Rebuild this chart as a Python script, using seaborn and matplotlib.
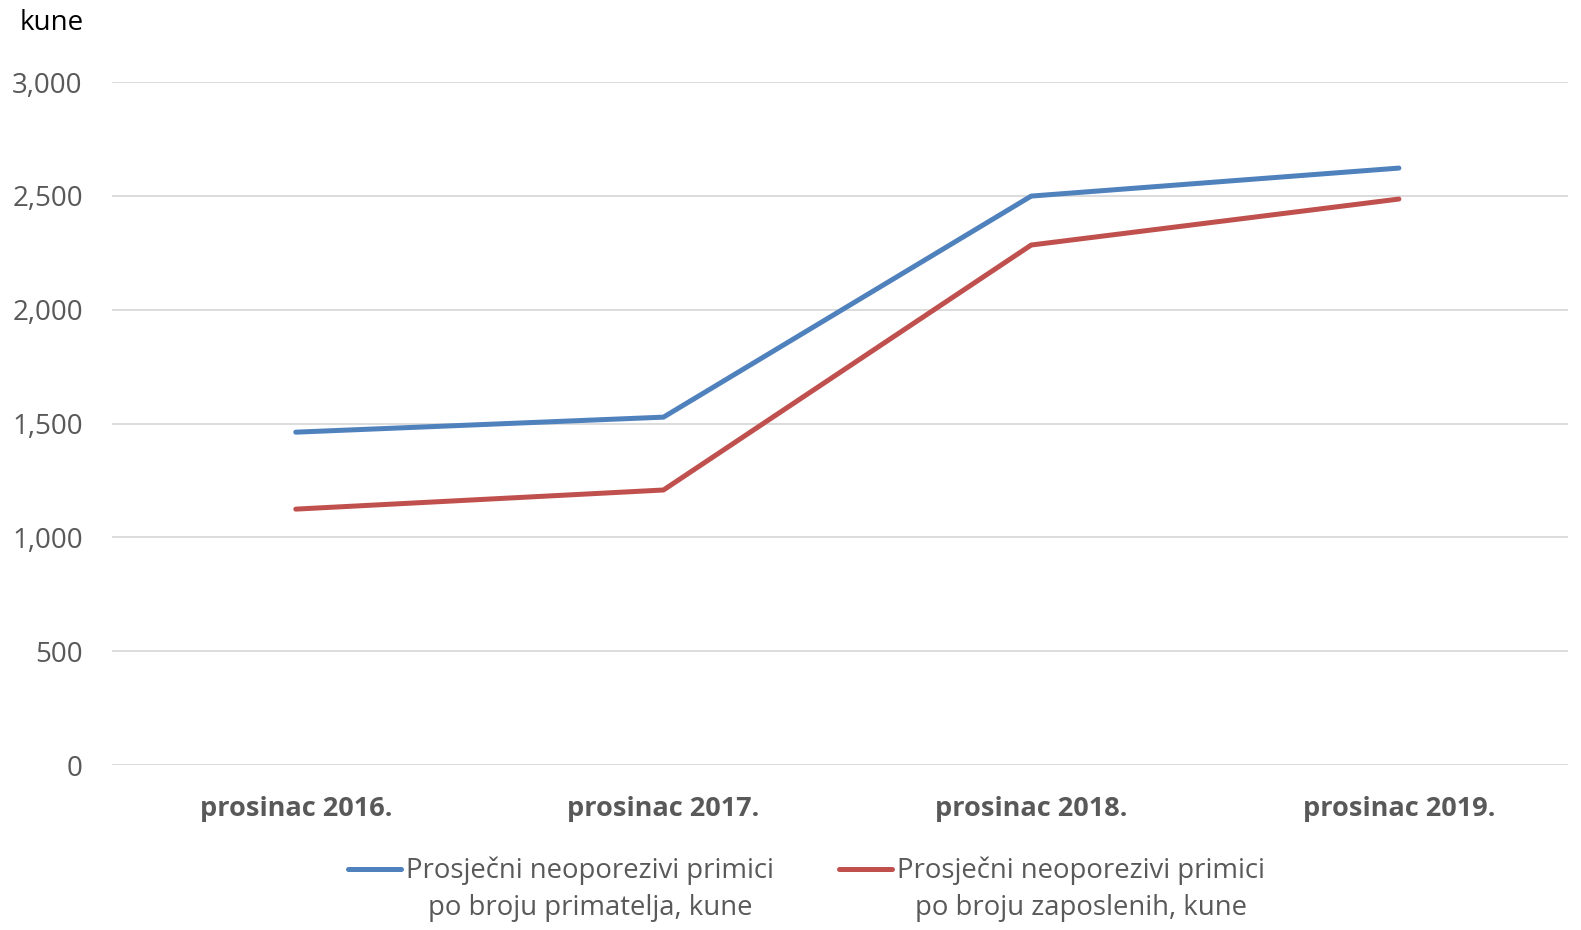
import matplotlib
matplotlib.use("Agg")
import matplotlib.pyplot as plt
from matplotlib.legend_handler import HandlerLine2D
import seaborn as sns
import pandas as pd

categories = ["prosinac 2016.", "prosinac 2017.", "prosinac 2018.", "prosinac 2019."]
primatelji = [1462, 1528, 2499, 2622]
zaposleni = [1124, 1208, 2284, 2486]
series_names = ["Prosječni neoporezivi primici\npo broju primatelja, kune",
                "Prosječni neoporezivi primici\npo broju zaposlenih, kune"]
y_ticks = [0, 500, 1000, 1500, 2000, 2500, 3000]
colors = ["#4F81BD", "#C0504D"]

sns.set_style("white")
plt.rcParams['font.family'] = ['Open Sans', 'DejaVu Sans']

df = pd.DataFrame({
    "x": list(range(len(categories))) * 2,
    "value": primatelji + zaposleni,
    "serija": [series_names[0]] * 4 + [series_names[1]] * 4,
})

fig = plt.figure(figsize=(15.81, 9.3), dpi=100)
ax = fig.add_axes([0.0708, 0.1774, 0.921, 0.7344])

sns.lineplot(data=df, x="x", y="value", hue="serija",
             palette=colors, linewidth=3.6, ax=ax, legend=False)

ax.set_xlim(-0.5, 3.46)
ax.set_ylim(0, 3000)
ax.set_yticks(y_ticks)
ax.set_yticklabels([f"{v:,}" for v in y_ticks], color="#595959", fontsize=20)
ax.set_xticks(range(len(categories)))
ax.set_xticklabels(categories, color="#595959", fontsize=19.5, fontweight="bold")
ax.tick_params(axis="y", length=0, pad=21)
ax.tick_params(axis="x", length=0, pad=22)
ax.grid(axis="y", color="#d9d9d9", linewidth=1.3)
ax.set_axisbelow(True)
for s in ax.spines.values():
    s.set_visible(False)
ax.set_xlabel("")
ax.set_ylabel("")

fig.text(0.0127, 0.975, "kune", fontsize=20, color="black", va="center", ha="left")


# legend line sits level with the first text line, as in the original
class HandlerTop(HandlerLine2D):
    def create_artists(self, legend, orig_handle, xdescent, ydescent,
                       width, height, fontsize, trans):
        arts = super().create_artists(legend, orig_handle, xdescent, ydescent,
                                      width, height, fontsize, trans)
        for a in arts:
            a.set_ydata([y + 15 for y in a.get_ydata()])
        return arts


handles = [plt.Line2D([], [], color=c, linewidth=3.6, solid_capstyle="round") for c in colors]
leg = fig.legend(handles, series_names, loc="upper center", bbox_to_anchor=(0.51, 0.1),
                 ncol=2, frameon=False, fontsize=19.8, handlelength=1.93, handletextpad=0.18,
                 columnspacing=2.36, labelcolor="#595959", borderpad=0.2,
                 handler_map={plt.Line2D: HandlerTop()})
for t in leg.get_texts():
    t.set_multialignment("center")
    t.set_linespacing(1.42)

fig.savefig("out.png", dpi=100)
